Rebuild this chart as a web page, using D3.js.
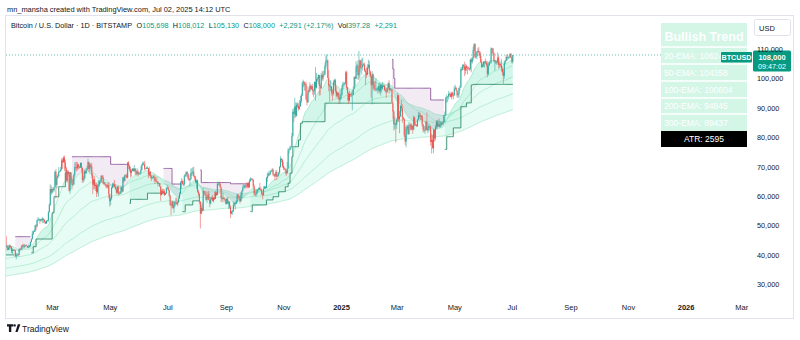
<!DOCTYPE html>
<html><head><meta charset="utf-8">
<script src="https://cdn.jsdelivr.net/npm/d3@7"></script>
<style>html,body{margin:0;padding:0;background:#fff}svg{display:block}</style>
</head><body><svg id="c" width="800" height="340"></svg>
<script>
// ---------------- DATA (prices in thousands USD, daily BTC/USD) ----------------
const monthStarts = ["2024-01-11","2024-02-01","2024-03-01","2024-04-01","2024-05-01","2024-06-01","2024-07-01","2024-08-01","2024-09-01","2024-10-01","2024-11-01","2024-12-01","2025-01-01","2025-02-01","2025-03-01","2025-04-01","2025-05-01","2025-06-01","2025-07-01"];
const firstOpenK = 46.6;
const closeK = [
[46.3,42.8,42.9,41.7,42.5,43.1,42.7,41.3,41.6,41.7,41.6,39.5,39.9,40.1,40.0,41.8,42.1,42.0,43.3,42.9,42.6],
[43.1,43.2,43.0,42.6,42.7,43.1,44.3,45.3,47.1,47.8,48.3,50.0,49.7,51.8,52.0,52.1,51.7,52.1,51.8,52.3,51.9,51.3,50.7,51.6,51.7,54.5,57.0,62.4,61.2],
[62.4,62.0,63.1,68.3,63.8,66.1,66.9,68.3,68.5,69.0,72.1,71.5,73.1,71.4,69.4,65.3,68.4,67.6,61.9,67.9,65.5,63.8,64.0,67.2,70.0,69.9,69.5,70.8,69.9,69.7,71.3],
[69.7,65.5,66.0,68.5,67.8,68.9,69.4,71.6,69.1,70.6,70.0,67.1,63.9,65.7,63.4,63.8,61.3,63.5,63.8,64.9,64.9,66.8,66.4,64.3,64.5,64.0,63.4,63.1,63.8,60.6],
[58.3,59.1,62.9,63.9,64.0,63.2,62.3,61.2,63.1,60.8,60.8,61.5,62.9,61.6,66.3,65.2,67.0,67.0,66.3,71.4,70.2,69.1,67.9,68.5,69.3,68.5,69.4,68.4,67.6,68.4,67.5],
[67.8,67.8,68.8,70.6,71.1,70.8,69.3,69.3,69.6,69.5,67.3,68.2,66.8,66.0,66.2,66.7,66.5,65.2,65.0,64.9,64.1,64.3,63.2,60.3,61.8,60.9,61.6,60.4,61.0,62.7],
[62.9,62.1,60.2,57.0,56.7,58.2,55.9,56.7,57.9,57.7,57.3,57.9,59.2,60.8,64.7,65.1,64.1,64.0,66.7,67.2,68.2,67.6,65.9,65.4,65.8,67.9,68.0,68.3,66.8,66.2,64.6],
[65.4,61.5,60.7,58.1,54.0,56.0,55.1,61.7,60.9,60.9,58.7,59.3,60.6,58.7,57.5,58.9,59.5,58.4,59.5,59.0,61.2,60.4,64.1,64.2,64.2,62.9,59.4,59.0,59.4,59.1,58.9],
[57.3,59.1,57.5,58.0,56.2,54.0,54.8,54.9,57.0,57.6,57.3,58.1,60.5,60.0,59.2,58.2,60.3,61.7,62.9,63.2,63.6,63.6,63.3,64.3,63.1,65.2,65.8,65.9,65.6,63.3],
[60.8,60.6,60.8,62.1,62.1,62.8,62.2,62.1,60.6,60.3,62.5,63.2,62.8,66.1,67.0,67.6,67.4,68.4,68.4,69.0,67.4,67.4,66.7,68.2,66.6,67.0,68.0,69.9,72.7,72.3,70.2],
[69.5,69.3,68.7,67.8,69.4,75.6,75.9,76.5,76.7,80.4,88.7,87.9,90.5,87.3,91.1,90.6,89.8,90.5,92.3,94.3,98.4,98.9,97.7,98.0,93.0,91.9,95.9,95.6,97.5,96.4],
[97.3,95.8,95.8,98.8,96.9,99.8,99.9,101.2,97.4,96.6,101.2,100.0,101.4,101.4,104.3,106.1,106.1,100.2,97.5,97.2,97.2,95.2,94.9,98.7,99.4,95.8,94.2,95.2,93.7,92.8,93.4],
[94.4,96.9,98.1,98.2,98.3,102.1,96.9,95.0,92.5,94.7,94.6,94.5,94.5,96.5,100.5,99.9,104.1,104.4,101.1,102.0,106.1,103.7,103.9,104.8,104.7,102.6,102.0,101.3,103.7,104.7,102.4],
[100.6,97.7,101.4,97.9,96.6,96.5,96.5,96.5,96.1,97.4,95.7,97.9,96.6,97.5,97.6,96.1,95.8,95.5,96.7,98.4,96.1,96.6,96.3,91.5,88.7,84.4,84.7,84.3],
[86.1,94.3,86.1,87.2,90.6,89.9,86.7,86.2,80.7,78.5,82.9,83.7,81.1,84.0,84.3,82.6,84.0,82.7,86.8,84.2,84.1,83.8,86.1,87.5,87.4,86.9,87.2,84.4,82.6,82.3,82.5],
[85.2,82.5,83.1,83.8,83.5,78.4,79.2,76.3,82.6,79.6,83.4,85.3,83.7,84.5,83.6,84.0,84.9,84.5,85.1,87.5,87.5,93.4,93.7,93.9,94.7,94.6,93.8,95.0,94.3,94.2],
[96.5,96.9,95.9,94.3,94.7,96.8,97.0,103.2,102.9,104.6,104.2,102.8,104.1,103.5,103.7,103.5,103.2,106.4,105.6,106.8,109.7,111.7,107.3,107.8,109.0,109.4,108.9,107.8,105.6,103.9,104.6],
[105.7,105.8,105.4,104.7,101.5,104.3,105.6,105.8,110.2,110.2,108.7,105.9,106.1,105.4,105.6,107.1,104.6,104.9,104.6,103.3,102.1,100.9,105.4,105.9,107.3,106.9,107.1,107.3,108.4,107.1],
[105.7,108.0]
];
const highK = [
[48.9,46.5,43.3,43.1,43.3,43.6,43.2,42.9,42.2,41.9,41.9,41.7,40.6,40.6,40.3,42.2,42.2,42.8,43.3,43.8,43.7],
[43.7,43.4,43.5,43.1,43.5,43.4,44.5,45.6,48.2,48.2,48.6,50.2,50.4,52.0,52.8,52.6,52.2,52.3,52.5,52.9,52.4,52.0,51.5,51.7,51.9,54.9,57.5,64.0,63.6],
[63.0,62.5,63.2,68.6,69.2,67.0,67.5,69.9,68.6,69.9,72.8,72.9,73.6,73.8,72.4,70.0,68.9,68.8,68.1,68.1,68.2,66.7,65.9,67.6,71.5,71.5,71.7,71.5,70.9,70.3,71.4],
[71.4,69.7,66.9,69.2,68.7,69.6,70.3,72.7,71.7,71.2,71.2,71.2,67.9,65.8,66.8,64.4,64.5,64.1,65.4,65.5,65.7,67.2,67.2,67.1,65.3,64.8,63.9,64.2,64.6,64.7],
[60.8,59.6,63.3,64.5,64.6,65.5,64.0,62.9,63.4,63.5,61.5,61.8,63.4,63.1,66.5,66.7,67.4,67.4,67.7,71.6,71.9,70.6,70.0,69.2,69.6,69.5,70.6,69.5,68.9,69.5,69.0],
[68.0,68.4,70.2,71.0,71.8,71.6,72.0,69.5,70.0,70.2,69.6,70.0,68.5,67.3,66.6,67.0,67.3,66.6,65.8,66.5,65.1,64.5,64.5,63.4,62.3,62.5,62.4,62.2,61.2,63.0],
[63.8,63.3,62.2,60.4,57.5,58.5,58.2,58.2,58.3,59.4,59.5,58.5,59.9,61.4,65.0,66.1,65.6,65.1,67.4,67.6,68.4,68.5,67.8,67.1,66.1,69.4,69.4,69.8,70.0,67.0,66.8],
[65.6,65.6,62.1,61.1,58.3,57.0,57.7,62.7,61.7,61.5,61.8,60.2,61.6,61.8,59.8,59.8,59.9,60.3,59.6,61.4,61.8,61.4,64.9,64.5,65.0,64.8,63.2,60.2,61.2,59.8,59.4],
[59.0,59.4,59.8,58.5,58.3,56.9,55.0,55.3,58.1,58.0,57.9,58.6,60.6,60.6,60.1,59.2,61.4,62.0,63.8,64.1,63.9,64.0,64.7,64.6,64.8,65.8,66.5,66.1,66.0,65.6],
[64.0,62.4,61.5,62.5,62.4,63.0,64.5,63.0,62.5,61.3,63.4,63.5,63.3,66.5,67.9,68.4,67.9,68.9,68.7,69.4,69.5,67.8,67.5,68.8,68.8,67.4,68.2,70.3,73.6,72.9,72.7],
[71.6,70.0,69.4,69.0,71.6,76.4,76.0,77.2,76.9,81.5,89.6,89.9,93.4,91.8,91.8,91.9,91.6,92.7,94.0,94.9,99.0,99.6,98.8,98.6,98.9,94.7,97.3,96.6,98.7,98.0],
[97.9,98.2,96.3,99.0,103.9,101.9,100.5,101.4,101.2,98.3,101.9,102.5,102.6,102.7,105.2,107.8,108.3,106.5,102.8,98.1,99.4,97.4,96.4,99.4,99.9,99.9,97.4,95.5,95.3,94.9,96.2],
[94.9,97.8,98.9,98.7,98.8,102.5,102.7,97.2,95.3,95.8,94.9,95.4,95.9,97.3,100.7,100.9,105.9,105.0,106.2,109.4,106.4,106.3,106.8,107.1,105.3,105.4,103.2,103.8,104.8,106.4,106.0],
[102.7,100.9,102.5,101.7,98.8,99.2,100.1,96.9,97.3,98.4,98.5,98.1,97.2,98.8,97.9,97.7,97.0,96.7,97.0,98.7,99.4,96.9,96.5,96.5,92.0,89.2,87.1,85.1],
[86.5,95.0,94.4,88.9,91.1,92.7,91.2,86.9,86.5,84.0,83.6,84.3,84.3,85.2,84.6,85.0,84.7,84.0,87.4,87.0,85.3,84.5,86.1,88.7,88.5,88.3,87.7,87.5,84.5,83.8,83.9],
[85.6,88.5,83.9,84.7,84.2,83.8,81.2,80.8,83.0,82.6,84.2,85.8,86.0,85.7,86.4,85.5,85.4,85.0,85.6,87.7,88.8,93.8,94.5,94.0,95.8,95.2,95.2,95.5,95.5,95.2],
[97.4,97.9,96.9,96.0,95.1,96.9,97.7,103.8,104.0,104.9,104.9,105.7,104.9,104.7,104.2,104.0,103.6,106.7,107.1,107.2,110.8,112.0,111.9,109.4,109.3,110.4,110.7,109.3,108.9,106.5,105.0],
[105.9,105.9,106.8,106.0,105.9,105.3,105.9,106.3,110.6,110.4,110.4,108.9,106.3,106.0,106.0,108.9,107.7,105.6,105.2,106.6,104.0,103.3,106.1,106.3,108.0,108.3,107.8,107.5,108.5,108.7],
[107.4,108.0]
];
const lowK = [
[45.6,41.5,42.4,41.6,41.7,42.0,42.2,40.6,40.3,41.4,41.5,39.4,38.5,39.5,39.5,39.8,41.4,41.6,41.8,42.7,42.3],
[42.6,42.9,42.9,42.3,42.3,42.6,42.8,44.3,45.3,46.8,47.7,47.8,48.3,49.3,51.3,51.6,50.6,51.3,51.4,50.8,50.9,50.7,50.5,50.6,51.3,51.3,54.4,56.7,60.4],
[60.8,61.7,61.3,62.9,59.2,62.6,66.0,66.6,68.1,68.2,68.7,69.3,71.4,68.6,65.6,64.8,64.6,66.6,61.5,60.8,64.5,62.3,63.3,63.8,66.6,68.8,68.3,68.9,69.1,69.4,69.6],
[68.3,64.5,64.6,65.1,66.0,67.6,68.6,69.2,68.2,67.5,69.6,66.0,60.7,62.2,62.4,61.7,59.7,60.8,59.7,63.1,64.2,64.6,65.9,64.0,63.8,63.5,62.8,62.6,62.6,59.2],
[56.5,56.9,58.8,62.6,62.9,62.9,62.2,60.6,60.9,60.2,60.5,60.7,60.7,61.1,61.4,64.6,65.0,66.6,66.0,66.1,69.2,68.3,66.3,66.6,68.6,68.4,68.3,67.2,67.1,67.2,66.7],
[67.3,67.3,67.6,68.6,70.4,70.4,68.7,69.2,69.3,69.2,66.1,66.9,66.2,65.1,65.9,66.0,65.0,64.1,64.8,64.5,63.3,63.9,63.2,58.4,60.7,60.8,60.5,60.0,60.4,60.7],
[62.4,61.8,59.8,56.8,53.5,56.0,55.7,54.3,56.3,57.2,57.0,56.6,57.8,59.1,60.7,62.5,63.9,63.3,63.3,66.6,66.6,66.6,65.6,65.2,63.5,65.5,66.8,67.1,66.5,65.3,64.5],
[62.4,61.2,59.9,57.2,49.0,54.0,54.6,55.0,60.0,60.3,58.5,57.7,58.9,58.5,56.2,57.2,58.8,58.2,57.8,58.6,59.0,60.1,60.3,63.6,63.6,62.8,58.1,57.9,58.8,57.9,58.5],
[57.2,57.1,57.4,55.6,55.7,52.5,53.8,53.7,54.6,56.4,55.5,57.3,57.6,59.5,58.7,57.5,58.3,59.2,61.6,62.8,62.4,62.8,62.7,62.8,62.7,62.7,64.8,65.4,65.1,62.9],
[60.2,60.0,59.8,60.5,61.6,61.9,62.1,61.8,60.4,58.9,60.2,62.4,62.4,62.7,64.8,66.6,66.8,67.1,68.1,68.4,66.8,66.6,65.3,66.6,65.5,66.4,66.8,67.6,69.7,71.5,69.7],
[68.8,68.9,67.5,66.8,67.5,69.4,74.4,75.6,75.8,76.6,80.2,85.1,86.6,86.7,87.1,90.0,89.1,89.3,90.6,91.6,94.0,97.0,95.8,95.9,92.6,90.8,91.7,94.7,95.4,96.2],
[96.0,94.5,93.6,94.5,92.5,96.5,99.0,98.2,94.2,94.3,96.6,99.3,99.2,100.7,101.2,103.3,105.3,100.0,95.6,92.2,95.7,94.2,92.5,94.2,97.6,95.2,93.5,93.7,92.9,91.3,91.8],
[92.8,94.2,96.2,97.7,97.3,97.9,96.1,92.5,91.3,92.2,93.8,93.7,89.2,94.3,96.5,97.3,100.3,102.2,99.5,99.6,100.1,103.1,101.3,102.8,104.3,102.3,97.8,100.2,101.2,103.3,101.5],
[100.4,93.4,91.2,96.2,95.9,95.6,95.8,95.6,94.8,95.4,94.9,94.2,95.3,96.2,97.1,95.8,95.2,93.4,95.1,96.6,94.9,95.8,95.5,91.3,86.1,82.3,82.8,78.2],
[82.9,85.1,85.2,81.4,86.9,88.8,84.9,85.9,80.1,77.4,76.6,82.4,80.9,80.9,83.6,82.3,82.5,81.2,82.4,83.9,83.8,83.6,83.6,85.9,86.4,85.9,85.9,83.6,81.7,81.7,81.2],
[82.4,82.2,81.5,82.0,82.4,77.2,74.5,76.2,74.6,78.5,78.9,82.7,83.0,83.7,83.5,83.2,83.8,84.2,84.2,84.9,85.1,87.6,91.8,92.0,92.9,93.8,93.6,92.9,93.7,92.9],
[94.2,96.3,95.7,93.5,93.4,93.5,95.8,96.9,102.4,102.8,103.4,100.8,101.5,102.6,101.4,103.0,102.6,102.8,102.1,105.0,106.1,109.3,106.8,106.8,106.6,108.9,107.6,106.9,105.3,103.6,103.8],
[103.9,103.7,104.9,104.1,100.4,101.1,104.3,105.0,105.1,108.4,108.2,105.5,102.7,104.9,104.6,105.0,103.4,103.6,103.9,102.3,101.0,98.2,99.9,104.8,105.9,106.1,106.4,106.8,107.1,106.8],
[105.1,105.1]
];
// EMA periods and their values just before the first candle
const emaPeriods = [20, 50, 100, 200, 300];
const emaSeedK = [43.3, 41.5, 38.5, 35.2, 32.6];
// Trailing-stop step levels: [from date, level K] (null = line off)
const bullSteps = [
["2024-01-11",40.0],["2024-01-22",null],
["2024-02-08",40.7],["2024-02-10",42.8],["2024-02-13",45.4],["2024-03-01",54.3],["2024-03-03",59.8],["2024-03-08",63.2],["2024-03-15",67.9],["2024-03-22",null],
["2024-05-22",57.5],["2024-05-23",58.9],["2024-06-10",61.0],["2024-06-27",null],
["2024-07-17",54.7],["2024-07-20",57.0],["2024-07-28",58.4],["2024-08-05",null],
["2024-09-27",54.7],["2024-09-29",57.0],["2024-10-14",58.7],["2024-10-21",59.8],["2024-10-27",61.5],["2024-11-03",63.2],["2024-11-06",64.4],["2024-11-08",67.8],["2024-11-10",73.4],["2024-11-11",76.8],["2024-11-17",79.1],["2024-11-19",84.8],["2024-11-21",85.3],["2024-12-15",91.6],["2025-02-24",null],
["2025-04-21",75.9],["2025-04-23",80.2],["2025-04-30",83.2],["2025-05-08",90.4],["2025-05-14",91.7],["2025-05-19",97.8],["2025-05-21",98.0]
];
const bearSteps = [
["2024-01-22",46.2],["2024-02-08",null],
["2024-03-22",73.4],["2024-05-02",70.8],["2024-05-22",null],
["2024-06-27",69.4],["2024-07-06",64.1],["2024-07-17",null],
["2024-08-05",68.9],["2024-08-06",64.6],["2024-09-06",64.2],["2024-09-27",null],
["2025-02-24",106.5],["2025-02-25",103.2],["2025-02-26",100.0],["2025-02-27",96.7],["2025-04-06",92.7],["2025-04-21",null]
];
const priceTicks = [30000,40000,50000,60000,70000,80000,90000,100000,110000];
const timeTicks = ["2024-03-01","2024-05-01","2024-07-01","2024-09-01","2024-11-01","2025-01-01","2025-03-01","2025-05-01","2025-07-01","2025-09-01","2025-11-01","2026-01-01","2026-03-01"];
const timeTickLabels = ["Mar","May","Jul","Sep","Nov","2025","Mar","May","Jul","Sep","Nov","2026","Mar"];
const lastPrice = 108000;
const tableTitle = "Bullish Trend";
const tableRows = ["20-EMA: 106247","50-EMA: 104358","100-EMA: 100604","200-EMA: 94845","300-EMA: 89437"];
const atrText = "ATR: 2595";
const headerTop = "mn_mansha created with TradingView.com, Jul 02, 2025 14:12 UTC";
// [text, isValue, gap before (px at base size)]
const headerParts = [["Bitcoin / U.S. Dollar · 1D · BITSTAMP",0,0],["O",0,5],["105,698",1,0],["H",0,5],["108,012",1,0],["L",0,5],["105,130",1,0],["C",0,5],["108,000",1,0],["+2,291 (+2.17%)",1,5],["Vol",0,5],["397.28",1,0],["+2,291",1,5]];

// ---------------- BUILD ----------------
const parse = d3.utcParse("%Y-%m-%d");
const candles = [];
let prev = firstOpenK;
monthStarts.forEach((ms, m) => {
  const s = parse(ms);
  closeK[m].forEach((c, i) => {
    candles.push({date: d3.utcDay.offset(s, i), o: prev*1000, h: highK[m][i]*1000, l: lowK[m][i]*1000, c: c*1000});
    prev = c;
  });
});
emaPeriods.forEach((p, k) => {
  let e = emaSeedK[k]*1000; const a = 2/(p+1);
  candles.forEach(d => { e += a*(d.c - e); d["e"+p] = e; });
});
function applySteps(steps, key) {
  const st = steps.map(s => ({date: parse(s[0]), v: s[1] == null ? null : s[1]*1000}));
  let idx = 0, lvl = null;
  candles.forEach(d => { while (idx < st.length && st[idx].date <= d.date) { lvl = st[idx].v; idx++; } d[key] = lvl; });
}
applySteps(bullSteps, "bull");
applySteps(bearSteps, "bear");

const svg = d3.select("#c");
const FONT = "'Liberation Sans', Arial, sans-serif";
const TEAL = "#089981";
const TXT = "#131722";
const pxPerDay = 0.944;
const x = d3.scaleUtc().domain([parse("2025-01-01"), parse("2026-01-01")]).range([341, 341 + 365*pxPerDay]);
const y = d3.scaleLinear().domain([30000, 110000]).range([284.3, 49.1]);

// frame
svg.append("rect").attr("x",5.5).attr("y",15.5).attr("width",788).attr("height",303).attr("fill","none").attr("stroke","#e0e3eb");

const defs = svg.append("defs");
defs.append("clipPath").attr("id","plot").append("rect").attr("x",6).attr("y",16).attr("width",746).attr("height",286);
defs.append("clipPath").attr("id","tbl").append("rect").attr("x",661).attr("y",23).attr("width",59.5).attr("height",125);
const plot = svg.append("g").attr("clip-path","url(#plot)");

// EMA ribbons
for (let k = 0; k < emaPeriods.length - 1; k++) {
  const a = "e"+emaPeriods[k], b = "e"+emaPeriods[k+1];
  plot.append("path").datum(candles)
    .attr("d", d3.area().x(d => x(d.date)).y0(d => y(d[b])).y1(d => y(d[a])))
    .attr("fill","#27e29a").attr("fill-opacity",0.11);
}
emaPeriods.forEach(p => {
  plot.append("path").datum(candles)
    .attr("d", d3.line().x(d => x(d.date)).y(d => y(d["e"+p])))
    .attr("fill","none").attr("stroke","#a8e8cc").attr("stroke-width",0.8);
});
// stop fills
plot.append("path").datum(candles)
  .attr("d", d3.area().defined(d => d.bull != null).x(d => x(d.date)).y0(d => y(d.bull)).y1(d => y(Math.max(d.e20, d.bull))))
  .attr("fill","#26c08f").attr("fill-opacity",0.1);
plot.append("path").datum(candles)
  .attr("d", d3.area().defined(d => d.bear != null).x(d => x(d.date)).y0(d => y(d.bear)).y1(d => y(Math.min(d.e20, d.bear))))
  .attr("fill","#9c5aa8").attr("fill-opacity",0.12);
// stop lines
plot.append("path").datum(candles)
  .attr("d", d3.line().defined(d => d.bull != null).curve(d3.curveStepAfter).x(d => x(d.date)).y(d => y(d.bull)))
  .attr("fill","none").attr("stroke","#2e8a6a").attr("stroke-width",0.9);
plot.append("path").datum(candles)
  .attr("d", d3.line().defined(d => d.bear != null).curve(d3.curveStepAfter).x(d => x(d.date)).y(d => y(d.bear)))
  .attr("fill","none").attr("stroke","#8a5298").attr("stroke-width",0.9);

// candles
const cg = plot.append("g");
cg.selectAll("line").data(candles).join("line")
  .attr("x1", d => x(d.date)).attr("x2", d => x(d.date))
  .attr("y1", d => y(Math.max(d.h, d.o, d.c))).attr("y2", d => y(Math.min(d.l, d.o, d.c)))
  .attr("stroke", d => d.c >= d.o ? "#26a69a" : "#ef5350").attr("stroke-width",0.8).attr("stroke-opacity",0.7);
cg.selectAll("rect").data(candles).join("rect")
  .attr("x", d => x(d.date) - 0.45).attr("width", 0.9)
  .attr("y", d => y(Math.max(d.o, d.c))).attr("height", d => Math.max(0.6, Math.abs(y(d.o) - y(d.c))))
  .attr("fill", d => d.c >= d.o ? "#26a69a" : "#ef5350");

// last price dotted line
svg.append("line").attr("x1",6).attr("x2",721).attr("y1",y(lastPrice)).attr("y2",y(lastPrice))
  .attr("stroke",TEAL).attr("stroke-width",1).attr("stroke-dasharray","1,2").attr("stroke-opacity",0.6);

// table
const tx = 661, tw = 86;
svg.append("rect").attr("x",tx).attr("y",23).attr("width",tw).attr("height",108).attr("fill","#d3f6e7");
[47,64,81,98,114].forEach(v => svg.append("line").attr("x1",tx).attr("x2",tx+tw).attr("y1",v).attr("y2",v).attr("stroke","#fff").attr("stroke-width",1.5));
svg.append("text").attr("x",tx+tw/2).attr("y",41).attr("text-anchor","middle").attr("fill","#fff")
  .attr("font-family",FONT).attr("font-size",12.5).attr("font-weight","bold").text(tableTitle);
tableRows.forEach((t,i) => {
  const tt = svg.append("text").attr("x",tx+3).attr("y",59+i*16.8).attr("fill","#fff")
    .attr("font-family",FONT).attr("font-size",8.5).text(t);
  if (i === 0) tt.attr("clip-path","url(#tbl)"); // hidden behind the BTCUSD tag, as in the reference
});
svg.append("rect").attr("x",tx).attr("y",131).attr("width",tw).attr("height",16).attr("fill","#000");
svg.append("text").attr("x",tx+tw/2).attr("y",142).attr("text-anchor","middle").attr("fill","#fff")
  .attr("font-family",FONT).attr("font-size",8.5).text(atrText);

// BTCUSD label + price label
svg.append("rect").attr("x",721).attr("y",52).attr("width",31).attr("height",10.5).attr("fill",TEAL).attr("rx",1);
svg.append("text").attr("x",736.5).attr("y",60.3).attr("text-anchor","middle").attr("fill","#fff")
  .attr("font-family",FONT).attr("font-size",7.2).attr("font-weight","bold").text("BTCUSD");
svg.append("rect").attr("x",753).attr("y",50.5).attr("width",38).attr("height",21).attr("fill",TEAL).attr("rx",1.5);
svg.append("text").attr("x",772).attr("y",59.5).attr("text-anchor","middle").attr("fill","#fff")
  .attr("font-family",FONT).attr("font-size",7.5).attr("font-weight","bold").text(d3.format(",")(lastPrice));
svg.append("text").attr("x",772).attr("y",69).attr("text-anchor","middle").attr("fill","#fff")
  .attr("font-family",FONT).attr("font-size",7.2).text("09:47:02");

// USD box
svg.append("rect").attr("x",754.5).attr("y",19.5).attr("width",36).attr("height",16).attr("rx",2).attr("fill","#fff").attr("stroke","#e0e3eb");
svg.append("text").attr("x",759).attr("y",30.5).attr("fill",TXT).attr("font-family",FONT).attr("font-size",7.5).text("USD");

// price axis
const ya = svg.append("g").attr("transform","translate(757,0)")
  .call(d3.axisRight(y).tickValues(priceTicks).tickFormat(d3.format(",")).tickSize(0).tickPadding(0));
ya.select(".domain").remove();
ya.selectAll("text").attr("font-family",FONT).attr("font-size",7.3).attr("fill",TXT);

// time axis
const xa = svg.append("g").attr("transform","translate(0,305)")
  .call(d3.axisBottom(x).tickValues(timeTicks.map(parse)).tickFormat((d,i) => timeTickLabels[i]).tickSize(0).tickPadding(0));
xa.select(".domain").remove();
xa.selectAll("text").attr("font-family",FONT).attr("font-size",7.5).attr("fill",TXT)
  .attr("font-weight",(d,i) => /^\d{4}$/.test(timeTickLabels[i]) ? "bold" : "normal");

// headers (font size fitted to the reference widths)
function fitText(sel, target) {
  const len = sel.node().getComputedTextLength();
  const fs = +sel.attr("font-size");
  sel.attr("font-size", fs * target / len);
}
const ht = svg.append("text").attr("x",7).attr("y",11.5).attr("fill",TXT).attr("font-family",FONT).attr("font-size",8.5).text(headerTop);
fitText(ht, 224);

const base = 8.5;
const hg = svg.append("g");
let parts = headerParts.map(p => {
  const t = hg.append("text").attr("y",28).attr("font-family",FONT).attr("font-size",base)
    .attr("fill", p[1] ? TEAL : TXT).text(p[0]);
  return {t, gap: p[2], w: t.node().getComputedTextLength()};
});
const natural = d3.sum(parts, p => p.w + p.gap);
const k = 386 / natural;
let cx = 11;
parts.forEach(p => {
  cx += p.gap * k;
  p.t.attr("font-size", base * k).attr("x", cx);
  cx += p.w * k;
});

// TradingView logo
const lg = svg.append("g").attr("fill",TXT);
lg.append("path").attr("d","M7,324.2 h6.2 v2.4 h-1.9 v5.4 h-2.4 v-5.4 h-1.9 z");
lg.append("circle").attr("cx",14.6).attr("cy",325.4).attr("r",1.2);
lg.append("path").attr("d","M15.4,332 l2.4,-7.8 h2.6 l-2.8,7.8 z");
svg.append("text").attr("x",22).attr("y",331.5).attr("fill",TXT).attr("font-family",FONT).attr("font-size",8.5).text("TradingView");
</script>
</body></html>
